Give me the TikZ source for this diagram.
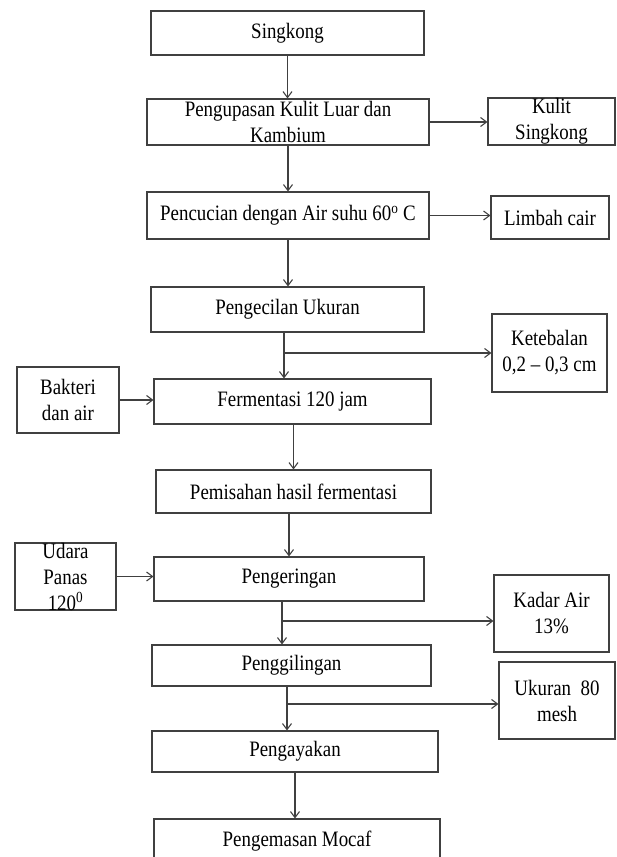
\documentclass[tikz,border=0pt]{standalone}
\usepackage{fontspec}
\setmainfont{Liberation Serif}[FakeStretch=0.86]
\usetikzlibrary{arrows.meta}

\begin{document}
\begin{tikzpicture}[x=1pt, y=-1pt,
	box/.style={shape=rectangle, draw=black!75, line width=1.1pt, inner sep=0pt, align=center, font=\fontsize{22}{26}\selectfont},
	arr/.style={draw=black!75, line width=1.1pt, -{Straight Barb[length=6pt, width=9pt, line width=1.1pt]}}]
	\clip (0, 0) rectangle (616, 857);
	\useasboundingbox (0, 0) rectangle (616, 857);
	% Main process column:
	\node[box, minimum width=273, minimum height=44](singkong) at (287.5, 33){Singkong};
	\node[box, minimum width=282, minimum height=46](kupas) at (288, 122){Pengupasan Kulit Luar dan\\Kambium};
	\node[box, minimum width=282, minimum height=47](cuci) at (288, 215.5){Pencucian dengan Air suhu 60\textsuperscript{o} C};
	\node[box, minimum width=273, minimum height=45](kecil) at (287.5, 309.5){Pengecilan Ukuran};
	\node[box, minimum width=277, minimum height=45](ferm) at (292.5, 401.5){Fermentasi 120 jam};
	\node[box, minimum width=275, minimum height=43](pisah) at (293.5, 491.5){Pemisahan hasil fermentasi};
	\node[box, minimum width=270, minimum height=44](kering) at (289, 579){Pengeringan};
	\node[box, minimum width=279, minimum height=41](giling) at (291.5, 665.5){Penggilingan};
	\node[box, minimum width=286, minimum height=41](ayak) at (295, 751.5){Pengayakan};
	\node[box, minimum width=286, minimum height=45](kemas) at (297, 841.5){Pengemasan Mocaf};
	% Side boxes:
	\node[box, minimum width=127, minimum height=47](kulit) at (551.5, 121.5){Kulit\\Singkong};
	\node[box, minimum width=118, minimum height=43](limbah) at (550, 217.5){Limbah cair};
	\node[box, minimum width=115, minimum height=78](tebal) at (549.5, 353){Ketebalan\\0,2 -- 0,3 cm};
	\node[box, minimum width=102, minimum height=66](bakteri) at (68, 400){Bakteri\\dan air};
	\node[box, minimum width=101, minimum height=67](udara) at (65.5, 576.5){\parbox[c][50pt][c]{90pt}{\centering Udara\\Panas\\120\textsuperscript{0}}};
	\node[box, minimum width=115, minimum height=77](kadar) at (551.5, 613.5){Kadar Air\\13\%};
	\node[box, minimum width=116, minimum height=77](ukuran) at (557, 700.5){Ukuran~~80\\mesh};
	% Branch points:
	\coordinate (j1) at (284, 353);
	\coordinate (j2) at (282, 621);
	\coordinate (j3) at (287, 704);
	% Connectors:
	\draw[arr] (singkong.south) -- (singkong.south |- kupas.north);
	\draw[arr] (kupas.south) -- (kupas.south |- cuci.north);
	\draw[arr] (cuci.south) -- (cuci.south |- kecil.north);
	\draw[arr] (kecil.south -| j1) -- (j1 |- ferm.north);
	\draw[arr] (j1) -- (j1 -| tebal.west);
	\draw[arr] (ferm.south -| pisah.south) -- (pisah.north);
	\draw[arr] (pisah.south -| kering.south) -- (kering.north);
	\draw[arr] (kering.south -| j2) -- (j2 |- giling.north);
	\draw[arr] (j2) -- (j2 -| kadar.west);
	\draw[arr] (giling.south -| j3) -- (j3 |- ayak.north);
	\draw[arr] (j3) -- (j3 -| ukuran.west);
	\draw[arr] (ayak.south) -- (ayak.south |- kemas.north);
	\draw[arr] (kupas.east) -- (kupas.east -| kulit.west);
	\draw[arr] (cuci.east) -- (cuci.east -| limbah.west);
	\draw[arr] (bakteri.east) -- (bakteri.east -| ferm.west);
	\draw[arr] (udara.east) -- (udara.east -| kering.west);
\end{tikzpicture}
\end{document}
